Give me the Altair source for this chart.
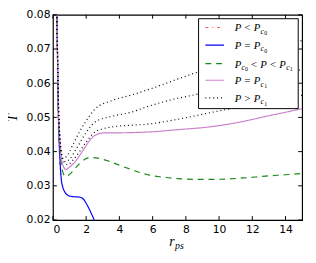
import altair as alt
import pandas as pd

# ---------------- data ----------------
red_x = [0.20, 0.25, 0.29, 0.34, 0.40, 0.46]
red_y = [0.085, 0.070, 0.055, 0.045, 0.038, 0.033]

blue_x = [0.22, 0.27, 0.31, 0.36, 0.42, 0.49, 0.60, 0.70, 0.85, 1.0, 1.3, 1.6, 1.85, 2.1, 2.3, 2.5, 2.6]
blue_y = [0.085, 0.070, 0.055, 0.045, 0.038, 0.0325, 0.0295, 0.0283, 0.0274, 0.0270, 0.0268, 0.0267,
          0.0260, 0.0240, 0.0220, 0.0197, 0.018]

green_x = [0.22, 0.27, 0.31, 0.36, 0.43, 0.52, 0.62, 0.78, 1.1, 1.5, 1.9, 2.25, 2.7, 3.3, 3.9, 4.7,
           5.65, 6.5, 7.5, 8.5, 9.5, 10.5, 11.5, 12.5, 13.5, 14.5, 15.0]
green_y = [0.085, 0.070, 0.055, 0.046, 0.040, 0.0360, 0.0336, 0.0327, 0.0338, 0.0360, 0.0377, 0.0383,
           0.0381, 0.0373, 0.0362, 0.0348, 0.0333, 0.0326, 0.0321, 0.0319, 0.0319, 0.0320, 0.0323,
           0.0327, 0.0331, 0.0334, 0.0336]

pink_x = [0.22, 0.27, 0.32, 0.38, 0.47, 0.60, 0.78, 1.0, 1.3, 1.57, 1.96, 2.25, 2.55, 3.1, 4.0, 5.0,
          6.0, 7.0, 8.0, 9.0, 10.0, 11.0, 12.0, 13.0, 14.0, 15.0]
pink_y = [0.085, 0.070, 0.055, 0.046, 0.040, 0.0360, 0.0348, 0.0355, 0.0368, 0.0386, 0.0415, 0.0435,
          0.0448, 0.0455, 0.0455, 0.0456, 0.0458, 0.0462, 0.0466, 0.0470, 0.0476, 0.0484, 0.0494,
          0.0505, 0.0515, 0.0526]

dot1_x = [0.22, 0.27, 0.32, 0.38, 0.46, 0.60, 0.88, 1.2, 1.6, 1.96, 2.55, 3.53, 4.7, 5.65, 7.0, 8.0,
          9.0, 10.0, 11.0, 12.0, 13.0, 14.0, 15.0]
dot1_y = [0.085, 0.070, 0.056, 0.047, 0.041, 0.0375, 0.0362, 0.0375, 0.0400, 0.0425, 0.0458, 0.0472,
          0.0477, 0.0480, 0.0490, 0.0499, 0.0509, 0.0519, 0.0528, 0.0538, 0.0547, 0.0556, 0.0565]

dot2_x = [0.22, 0.27, 0.32, 0.38, 0.45, 0.56, 0.75, 1.0, 1.4, 1.96, 2.55, 3.53, 4.7, 5.65, 7.0, 8.7,
          10.0, 12.0, 15.0]
dot2_y = [0.085, 0.070, 0.056, 0.047, 0.042, 0.0385, 0.0371, 0.0378, 0.0408, 0.0453, 0.0487, 0.0503,
          0.0515, 0.0531, 0.0550, 0.0568, 0.0583, 0.0605, 0.0640]

dot3_x = [0.22, 0.27, 0.32, 0.38, 0.44, 0.60, 0.80, 1.2, 1.6, 1.96, 2.55, 3.53, 4.7, 5.65, 6.2, 7.5,
          8.8, 10.0, 12.0, 15.0]
dot3_y = [0.085, 0.070, 0.056, 0.048, 0.043, 0.0380, 0.0385, 0.0420, 0.0458, 0.0487, 0.0525, 0.0549,
          0.0565, 0.0580, 0.0589, 0.0612, 0.0634, 0.0652, 0.0682, 0.0725]

x_ticks = [0, 2, 4, 6, 8, 10, 12, 14]
y_ticks = [0.02, 0.03, 0.04, 0.05, 0.06, 0.07, 0.08]

series_names = ["red", "blue", "green", "pink", "black"]
series_colors = ["#ff5555", "#0000ff", "#1a8a1a", "#cc80cc", "#000000"]
series_dash = [[3, 4, 1, 4], [1, 0], [6, 5], [1, 0], [1, 3]]

# ---------------- build table ----------------
rows = []
for name, curve, xs, ys in [("red", "r", red_x, red_y), ("blue", "b", blue_x, blue_y),
                            ("green", "g", green_x, green_y), ("pink", "p", pink_x, pink_y),
                            ("black", "k1", dot1_x, dot1_y), ("black", "k2", dot2_x, dot2_y),
                            ("black", "k3", dot3_x, dot3_y)]:
    for i, (xv, yv) in enumerate(zip(xs, ys)):
        rows.append({"x": xv, "y": yv, "series": name, "curve": curve, "i": i})
df = pd.DataFrame(rows)

W, H = 255, 210
xscale = alt.Scale(domain=[0, 15], nice=False, zero=False)
yscale = alt.Scale(domain=[0.02, 0.08], nice=False, zero=False)
xaxis = alt.Axis(values=x_ticks, ticks=False, domain=False, grid=False, title=None,
                 labelFont="DejaVu Sans", labelFontSize=11, labelColor="black", labelPadding=4)
yaxis = alt.Axis(values=y_ticks, ticks=False, domain=False, grid=False, title="T",
                 titleFont="Liberation Serif", titleFontStyle="italic", titleFontWeight="normal",
                 titleFontSize=14, titleColor="black", titleAngle=270, titleX=-41, titleY=105,
                 titleAlign="center", titleBaseline="middle",
                 format=".2f", labelFont="DejaVu Sans", labelFontSize=11,
                 labelColor="black", labelPadding=3)

lines = alt.Chart(df).mark_line(clip=True, strokeWidth=1.2, interpolate="monotone").encode(
    x=alt.X("x:Q", scale=xscale, axis=xaxis),
    y=alt.Y("y:Q", scale=yscale, axis=yaxis),
    color=alt.Color("series:N", scale=alt.Scale(domain=series_names, range=series_colors), legend=None),
    strokeDash=alt.StrokeDash("series:N", scale=alt.Scale(domain=series_names, range=series_dash),
                              legend=None),
    detail="curve:N",
    order="i:Q",
)

# inward ticks on all four sides
xt = pd.DataFrame({"x": x_ticks})
yt = pd.DataFrame({"y": y_ticks})
tick_layers = [
    alt.Chart(xt).mark_rule(color="black", strokeWidth=1).encode(
        x=alt.X("x:Q", scale=xscale, axis=xaxis), y=alt.value(H), y2=alt.value(H - 4)),
    alt.Chart(xt).mark_rule(color="black", strokeWidth=1).encode(
        x=alt.X("x:Q", scale=xscale, axis=xaxis), y=alt.value(0), y2=alt.value(4)),
    alt.Chart(yt).mark_rule(color="black", strokeWidth=1).encode(
        y=alt.Y("y:Q", scale=yscale, axis=yaxis), x=alt.value(0), x2=alt.value(4)),
    alt.Chart(yt).mark_rule(color="black", strokeWidth=1).encode(
        y=alt.Y("y:Q", scale=yscale, axis=yaxis), x=alt.value(W - 4), x2=alt.value(W)),
]

one = alt.Data(values=[{"a": 1}])

def txt(s, px, py, size, font="Liberation Serif", style="italic", baseline="alphabetic"):
    kw = dict(text=s, font=font, fontSize=size, fontStyle=style, baseline=baseline,
              align="left", color="black")
    return alt.Chart(one).mark_text(**kw).encode(x=alt.value(px), y=alt.value(py))

# legend
LX0, LX1, LY0, LY1 = 149, 251, 4, 96
legend_layers = [
    alt.Chart(one).mark_rect(fill="white", stroke="black", strokeWidth=1).encode(
        x=alt.value(LX0), x2=alt.value(LX1), y=alt.value(LY0), y2=alt.value(LY1))
]
row_y = [13, 31, 50, 67, 85]
for k in range(5):
    legend_layers.append(
        alt.Chart(one).mark_rule(color=series_colors[k], strokeDash=series_dash[k], strokeWidth=1.2).encode(
            x=alt.value(156), x2=alt.value(175), y=alt.value(row_y[k]), y2=alt.value(row_y[k])))

TS = 11
rels = ["<", "=", None, "=", ">"]
subs = ["0", "0", None, "1", "1"]
for k in range(5):
    yb = row_y[k] + 4
    if rels[k] is not None:
        legend_layers.append(txt("P " + rels[k] + " P", 186, yb, TS))
        legend_layers.append(txt("c", 212.5, yb + 2.5, 8))
        legend_layers.append(txt(subs[k], 216.3, yb + 4, 6, style="normal"))
    else:
        legend_layers.append(txt("P", 186, yb, TS))
        legend_layers.append(txt("c", 192.9, yb + 2.5, 8))
        legend_layers.append(txt("0", 196.6, yb + 4, 6, style="normal"))
        legend_layers.append(txt("< P < P", 202, yb, TS))
        legend_layers.append(txt("c", 238.7, yb + 2.5, 8))
        legend_layers.append(txt("1", 242.4, yb + 4, 6, style="normal"))

# x axis title r_ps
title_layers = [
    txt("r", 119, 237, 14),
    txt("ps", 125, 240, 10),
]

chart = alt.layer(lines, *tick_layers, *legend_layers, *title_layers).properties(
    width=W, height=H,
    autosize=alt.AutoSizeParams(type="none"),
    padding={"left": 46, "top": 4, "right": 6, "bottom": 40},
).configure_view(stroke="black", strokeWidth=1.2)

chart.save("out.html", embed_options={"renderer": "svg", "actions": False})
